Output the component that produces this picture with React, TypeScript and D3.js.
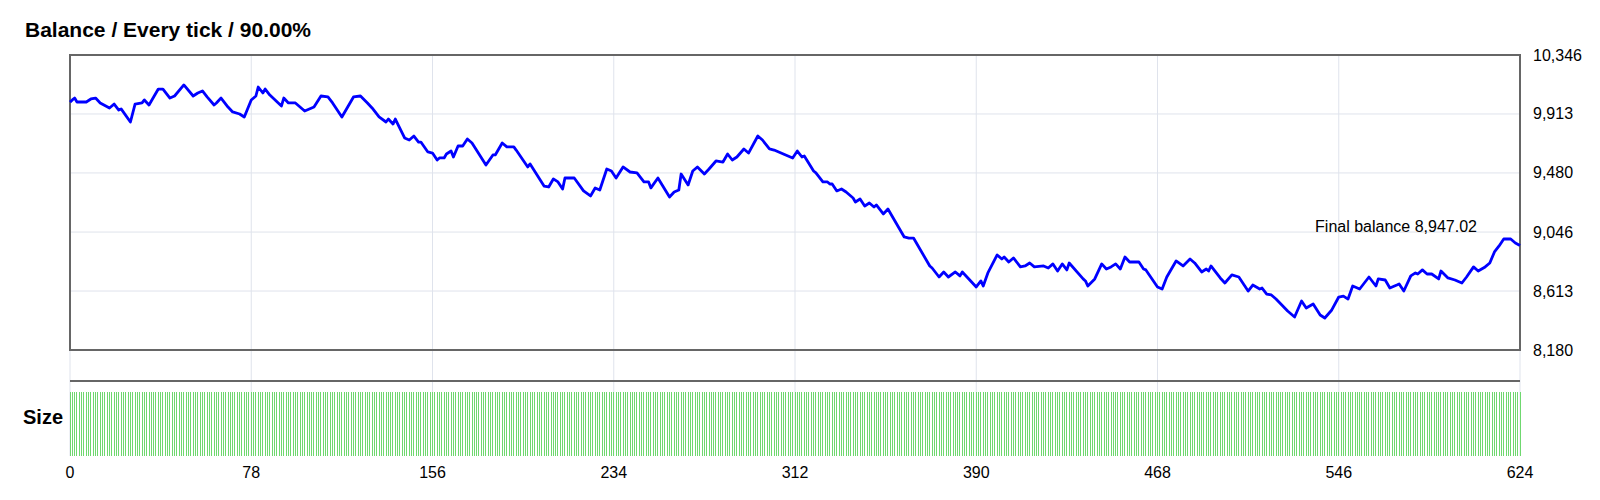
import { useEffect, useRef } from 'react'
import * as d3 from 'd3'

const title = 'Balance / Every tick / 90.00%'
const finalBalance = 8947.02

// [trade number, balance]
const balancePoints: [number, number][] = [
  [0, 10000], [1, 10016], [2, 10030], [3, 10001], [7, 10001], [9, 10023], [11, 10030], [13, 9994],
  [17, 9957], [19, 9986], [21, 9942], [22, 9950], [26, 9854], [28, 9986], [31, 9994], [32, 10016],
  [34, 9979], [38, 10096], [40, 10096], [43, 10030], [45, 10045], [49, 10126], [53, 10045], [55, 10067],
  [57, 10082], [59, 10038], [62, 9979], [63, 9994], [65, 10030], [68, 9964], [70, 9928], [73, 9913],
  [75, 9891], [78, 10016], [80, 10045], [81, 10111], [83, 10067], [84, 10096], [86, 10052], [91, 9972],
  [92, 10030], [94, 9994], [97, 9994], [101, 9935], [105, 9964], [108, 10045], [111, 10038], [113, 9994],
  [117, 9891], [122, 10038], [125, 10045], [128, 9994], [130, 9957], [133, 9891], [136, 9854], [137, 9876],
  [139, 9839], [140, 9876], [144, 9737], [146, 9722], [148, 9751], [150, 9707], [151, 9707], [154, 9634],
  [156, 9626], [158, 9575], [159, 9590], [161, 9590], [162, 9619], [164, 9641], [165, 9597], [167, 9678],
  [169, 9678], [171, 9729], [173, 9700], [179, 9538], [182, 9612], [183, 9612], [186, 9700], [188, 9671],
  [191, 9671], [192, 9648], [197, 9524], [198, 9546], [204, 9384], [206, 9377], [208, 9436], [210, 9414],
  [212, 9362], [213, 9443], [217, 9443], [221, 9348], [224, 9311], [226, 9370], [228, 9355], [231, 9509],
  [233, 9494], [235, 9443], [238, 9524], [241, 9487], [244, 9480], [247, 9414], [249, 9414], [250, 9370],
  [253, 9443], [258, 9303], [260, 9340], [262, 9355], [263, 9472], [266, 9392], [268, 9494], [270, 9524],
  [273, 9472], [275, 9509], [278, 9568], [281, 9560], [283, 9619], [285, 9575], [287, 9597], [290, 9656],
  [292, 9626], [296, 9751], [298, 9722], [301, 9656], [303, 9648], [306, 9626], [309, 9604], [311, 9590],
  [313, 9641], [315, 9597], [316, 9604], [320, 9494], [321, 9480], [324, 9414], [326, 9414], [327, 9399],
  [328, 9399], [330, 9348], [332, 9362], [334, 9340], [337, 9296], [338, 9267], [340, 9289], [342, 9237],
  [344, 9259], [346, 9230], [347, 9245], [350, 9179], [352, 9215], [359, 9010], [361, 9002], [363, 9002],
  [370, 8797], [371, 8782], [374, 8716], [376, 8753], [378, 8716], [381, 8753], [383, 8724], [384, 8753],
  [390, 8643], [392, 8687], [393, 8650], [395, 8746], [399, 8878], [401, 8848], [402, 8863], [404, 8826],
  [406, 8856], [409, 8790], [411, 8797], [413, 8819], [415, 8790], [419, 8797], [421, 8782], [423, 8812],
  [425, 8760], [427, 8812], [429, 8768], [430, 8819], [436, 8702], [437, 8687], [438, 8650], [441, 8702],
  [444, 8812], [446, 8775], [448, 8790], [450, 8812], [452, 8775], [454, 8863], [456, 8826], [460, 8826],
  [462, 8775], [463, 8768], [468, 8643], [470, 8628], [472, 8716], [476, 8834], [479, 8797], [482, 8848],
  [484, 8819], [487, 8753], [489, 8775], [490, 8760], [491, 8797], [495, 8709], [497, 8672], [500, 8731],
  [503, 8716], [507, 8613], [509, 8657], [512, 8628], [513, 8635], [515, 8591], [517, 8584], [519, 8554],
  [524, 8466], [527, 8422], [530, 8540], [532, 8488], [535, 8518], [538, 8437], [540, 8415], [543, 8474],
  [546, 8569], [548, 8576], [550, 8554], [552, 8650], [555, 8628], [559, 8716], [562, 8650], [563, 8702],
  [566, 8694], [568, 8635], [571, 8657], [572, 8665], [574, 8613], [577, 8724], [579, 8746], [580, 8738],
  [582, 8768], [584, 8738], [586, 8738], [589, 8702], [590, 8760], [593, 8709], [596, 8694], [599, 8672],
  [601, 8716], [604, 8790], [606, 8760], [609, 8790], [611, 8819], [613, 8900], [615, 8944], [617, 8995],
  [620, 8995], [622, 8966], [624, 8947.02],
]

const tradeCount = 624
const lotSize = 1 // every trade uses the same size

const xTicks = [0, 78, 156, 234, 312, 390, 468, 546, 624]
const yTicks = [8180, 8613, 9046, 9480, 9913, 10346]

export default function BalanceChart() {
  const svgRef = useRef<SVGSVGElement>(null)

  useEffect(() => {
    if (!svgRef.current) return
    const svg = d3.select(svgRef.current)
    svg.selectAll('*').remove()

    const left = 70
    const right = 1520
    const top = 55
    const bottom = 350
    const sizeTop = 381
    const barTop = 392
    const barBottom = 456
    const font = 'Arial, "Liberation Sans", sans-serif'

    const x = d3.scaleLinear().domain([0, tradeCount]).range([left, right])
    const y = d3.scaleLinear().domain([8180, 10346]).range([bottom, top])
    const sizeY = d3.scaleLinear().domain([0, lotSize]).range([barBottom, barTop])

    // grid
    svg.selectAll('.hgrid')
      .data(yTicks.slice(1, -1))
      .enter()
      .append('line')
      .attr('x1', left).attr('x2', right)
      .attr('y1', d => y(d)).attr('y2', d => y(d))
      .attr('stroke', '#dfe3ec')
      .attr('stroke-width', 1)

    svg.selectAll('.vgrid')
      .data(xTicks)
      .enter()
      .append('line')
      .attr('x1', d => x(d)).attr('x2', d => x(d))
      .attr('y1', top).attr('y2', barBottom)
      .attr('stroke', '#dfe3ec')
      .attr('stroke-width', 1)

    // size bars
    svg.selectAll('.size-bar')
      .data(d3.range(tradeCount + 1))
      .enter()
      .append('line')
      .attr('x1', d => x(d)).attr('x2', d => x(d))
      .attr('y1', sizeY(lotSize)).attr('y2', sizeY(0))
      .attr('stroke', '#6fd86f')
      .attr('stroke-width', 1)
      .attr('shape-rendering', 'crispEdges')

    // frames
    svg.append('rect')
      .attr('x', left).attr('y', top)
      .attr('width', right - left).attr('height', bottom - top)
      .attr('fill', 'none')
      .attr('stroke', '#666')
      .attr('stroke-width', 2)

    svg.append('line')
      .attr('x1', left).attr('x2', right)
      .attr('y1', sizeTop).attr('y2', sizeTop)
      .attr('stroke', '#666')
      .attr('stroke-width', 2)

    // balance line
    const line = d3.line<[number, number]>()
      .x(d => x(d[0]))
      .y(d => y(d[1]))

    svg.append('path')
      .datum(balancePoints)
      .attr('d', line)
      .attr('fill', 'none')
      .attr('stroke', '#0000ff')
      .attr('stroke-width', 2.8)
      .attr('stroke-linejoin', 'round')

    // axes labels
    svg.selectAll('.ylabel')
      .data(yTicks)
      .enter()
      .append('text')
      .attr('x', right + 13)
      .attr('y', d => y(d) + 5.5)
      .attr('font-family', font)
      .attr('font-size', 16)
      .attr('fill', '#000')
      .text(d => d3.format(',')(d))

    svg.selectAll('.xlabel')
      .data(xTicks)
      .enter()
      .append('text')
      .attr('x', d => x(d))
      .attr('y', 478)
      .attr('text-anchor', 'middle')
      .attr('font-family', font)
      .attr('font-size', 16)
      .attr('fill', '#000')
      .text(d => d)

    svg.append('text')
      .attr('x', 25).attr('y', 37)
      .attr('font-family', font)
      .attr('font-size', 21)
      .attr('font-weight', 'bold')
      .text(title)

    svg.append('text')
      .attr('x', 23).attr('y', 424)
      .attr('font-family', font)
      .attr('font-size', 20)
      .attr('font-weight', 'bold')
      .text('Size')

    svg.append('text')
      .attr('x', 1477).attr('y', 232)
      .attr('text-anchor', 'end')
      .attr('font-family', font)
      .attr('font-size', 16)
      .attr('fill', '#000')
      .text(`Final balance ${d3.format(',.2f')(finalBalance)}`)
  }, [])

  return (
    <svg
      ref={svgRef}
      width={1600}
      height={500}
      style={{ position: 'absolute', left: 0, top: 0, background: '#fff' }}
    />
  )
}
